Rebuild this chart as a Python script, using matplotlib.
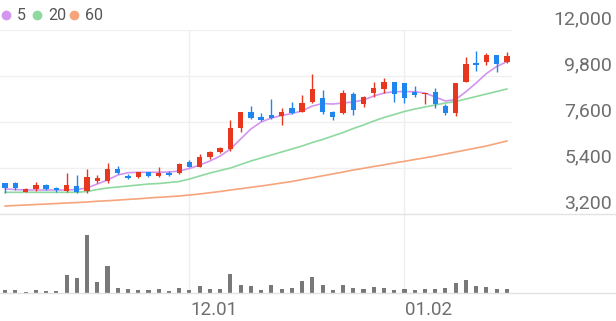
import numpy as np
import matplotlib.pyplot as plt
from matplotlib.lines import Line2D

plt.rcParams['font.family'] = ['Roboto', 'DejaVu Sans']

#%% 일봉 데이터 (시가 / 고가 / 저가 / 종가)
open_p = [4670, 4670, 4250, 4380, 4570, 4455, 4285, 4555, 4315, 4775,
          4775, 5365, 5030, 4985, 5210, 5015, 5175, 5145, 5700, 5460,
          5910, 6165, 6295, 7325, 8065, 7825, 7935, 7885, 8255, 8090,
          8540, 8760, 8090, 8015, 8925, 8445, 8970, 9180, 9500, 9450,
          9050, 8940, 9020, 8365, 8015, 9525, 10435, 10485, 10805, 10485]
high_p = [4690, 4745, 4440, 4730, 4635, 4505, 5175, 5065, 5335, 5050,
          5655, 5510, 5100, 5220, 5230, 5460, 5255, 5625, 5760, 6070,
          6225, 6420, 7695, 8080, 8365, 8015, 8685, 8255, 8570, 8890,
          9880, 9130, 8125, 9130, 9050, 8845, 9525, 9720, 9510, 9460,
          9320, 9010, 9210, 8445, 9460, 10725, 10995, 10915, 10810, 10935]
low_p = [4220, 4345, 4230, 4315, 4335, 4265, 4250, 4225, 4220, 4695,
         4695, 5110, 4860, 4920, 4985, 4985, 5015, 5100, 5425, 5435,
         5845, 6105, 6225, 7135, 7765, 7645, 7745, 7455, 7960, 8055,
         8495, 7970, 7695, 7980, 7935, 8330, 8810, 8970, 8570, 8495,
         8780, 8445, 8285, 7935, 7885, 9510, 10040, 10325, 10005, 10405]
close_p = [4460, 4430, 4395, 4585, 4395, 4335, 4570, 4265, 4955, 4945,
           5335, 5145, 4935, 5195, 5015, 5175, 5050, 5575, 5460, 5940,
           6180, 6370, 7325, 8065, 7805, 7695, 7775, 8090, 8015, 8525,
           9165, 8065, 7825, 8970, 8175, 8810, 9210, 9500, 8925, 8760,
           8890, 9000, 8445, 8045, 9450, 10375, 10325, 10805, 10360, 10755]

# 이동평균선 (5 / 20 / 60일)
ma5 = [4395, 4371, 4347, 4347, 4347, 4347, 4347, 4371, 4443, 4634,
       4825, 5065, 5175, 5194, 5194, 5194, 5208, 5256, 5375, 5543,
       5734, 5973, 6308, 6786, 7265, 7600, 7791, 7910, 8006, 8126,
       8365, 8484, 8460, 8508, 8556, 8652, 8843, 8987, 9049, 9058,
       9049, 8987, 8795, 8604, 8676, 9049, 9465, 9919, 10254, 10484]
ma20 = [4237, 4237, 4237, 4237, 4237, 4237, 4237, 4237, 4275, 4371,
        4443, 4491, 4538, 4586, 4634, 4658, 4706, 4754, 4873, 5017,
        5160, 5280, 5399, 5567, 5734, 5878, 6021, 6165, 6308, 6452,
        6619, 6763, 6930, 7097, 7289, 7456, 7647, 7815, 7958, 8102,
        8221, 8317, 8413, 8508, 8580, 8700, 8819, 8939, 9058, 9178]
ma60 = [3582, 3606, 3630, 3654, 3677, 3701, 3725, 3749, 3773, 3811,
        3835, 3864, 3898, 3926, 3965, 3998, 4027, 4060, 4108, 4156,
        4218, 4275, 4347, 4409, 4476, 4538, 4610, 4682, 4754, 4849,
        4935, 5026, 5117, 5208, 5304, 5385, 5471, 5552, 5639, 5720,
        5806, 5887, 5973, 6069, 6165, 6260, 6356, 6452, 6571, 6691]

# 거래량
volume = [26000, 26000, 7000, 26000, 20000, 17000, 177000, 150000, 577000, 107000,
          273000, 53000, 37000, 27000, 30000, 43000, 23000, 47000, 30000, 70000,
          43000, 37000, 190000, 83000, 75000, 27000, 77000, 43000, 50000, 117000,
          160000, 77000, 33000, 83000, 50000, 37000, 60000, 50000, 27000, 43000,
          33000, 37000, 37000, 50000, 103000, 127000, 67000, 60000, 37000, 37000]

# 날짜 눈금 (월 첫 거래일)
tick_idx = [18, 39]
tick_labels = ['12.01', '01.02']

# y축 눈금
y_ticks = [3200, 5400, 7600, 9800, 12000]

ma_names = ['5', '20', '60']
ma_colors = ['#d395ef', '#8ed9a0', '#f6a47c']

#%%
o = np.array(open_p)
h = np.array(high_p)
l = np.array(low_p)
c = np.array(close_p)
x = np.arange(len(c))
up = c >= o
col = np.where(up, '#e8371f', '#1f86f0')

W, H = 616, 321
fig = plt.figure(figsize=(W / 100, H / 100), dpi=100)
fig.set_facecolor('white')

# 가격 차트 영역
ax = fig.add_axes([0, 1 - 214 / H, 512 / W, 184 / H])
ax.set_xlim(-0.5, len(c) - 0.5)
ax.set_ylim(y_ticks[0], y_ticks[-1])
for v in y_ticks[1:]:
    ax.axhline(v, color='#f0f0f0', lw=1, zorder=0)
for t in tick_idx:
    ax.axvline(t, color='#eeeeee', lw=1, zorder=0)

for ma, cl in zip([ma60, ma20, ma5], ma_colors[::-1]):
    ax.plot(x, ma, color=cl, lw=1.2, zorder=2)

ax.vlines(x, l, h, colors=col, lw=1, zorder=3)
body = np.abs(c - o)
body = np.maximum(body, 40)
ax.bar(x, body, bottom=np.minimum(o, c), width=0.52, color=col, zorder=4)
ax.axis('off')

# y축 라벨 (오른쪽)
for v in y_ticks:
    ax.annotate('{:,}'.format(v), xy=(1, v), xycoords=('axes fraction', 'data'),
                xytext=(100, 6), textcoords='offset pixels',
                ha='right', va='baseline', fontsize=14, color='#6e6e6e')

# 거래량 영역
axv = fig.add_axes([0, 1 - 293 / H, 512 / W, 79 / H])
axv.set_xlim(-0.5, len(c) - 0.5)
axv.set_ylim(0, max(volume) * 79 / 57.7)
for t in tick_idx:
    axv.axvline(t, color='#eeeeee', lw=1, zorder=0)
axv.bar(x, volume, width=0.4, color='#787878', zorder=2)
axv.axis('off')

for t, lab in zip(tick_idx, tick_labels):
    axv.annotate(lab, xy=(t, 0), xycoords='data', xytext=(1, -22),
                 textcoords='offset pixels', ha='left', va='baseline',
                 fontsize=13.5, color='#6e6e6e')

# 구분선
for yy in [214, 293]:
    fig.add_artist(Line2D([0, 1], [1 - yy / H, 1 - yy / H], transform=fig.transFigure,
                          color='#e2e2e2', lw=1))

# 범례
leg_x = [5.5, 37, 74]
for lx, name, cl in zip(leg_x, ma_names, ma_colors):
    fig.add_artist(Line2D([lx / W], [1 - 15 / H], transform=fig.transFigure,
                          marker='o', markersize=6, color=cl, lw=0))
    fig.text((lx + 11) / W, 1 - 15 / H, name, ha='left', va='center',
             fontsize=11.5, color='#555555')

fig.savefig('out.png', dpi=100)
